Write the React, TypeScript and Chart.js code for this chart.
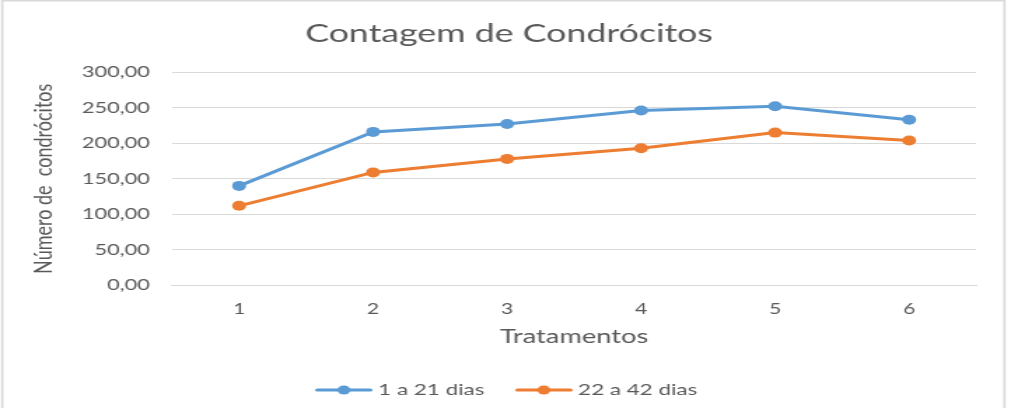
import React, { useEffect, useRef } from 'react';
import { Chart, registerables } from 'chart.js';

Chart.register(...registerables);

// ---- data ----
const categories = ['1', '2', '3', '4', '5', '6'];
const series1Label = '1 a 21 dias';
const series2Label = '22 a 42 dias';
const series1 = [140, 216, 227, 246, 252, 233];
const series2 = [112, 159, 178, 193, 215, 204];
const yTickValues = [0, 50, 100, 150, 200, 250, 300];
const chartTitle = 'Contagem de Condrócitos';
const xTitle = 'Tratamentos';
const yTitle = 'Número de  condrócitos';

// ---- styles ----
const STRETCH = 1.4003;
const W = 727;
const H = 408;
const BLUE = '#5B9BD5';
const ORANGE = '#ED7D31';
const TEXT = '#595959';
const GRID = '#D9D9D9';
const FONT = 'Lato';

function legendIcon(color: string) {
  const c = document.createElement('canvas');
  c.width = 41;
  c.height = 12;
  const g = c.getContext('2d')!;
  g.strokeStyle = color;
  g.lineWidth = 3;
  g.lineCap = 'round';
  g.beginPath();
  g.moveTo(1.5, 6);
  g.lineTo(39.5, 6);
  g.stroke();
  g.fillStyle = color;
  g.beginPath();
  g.arc(20.5, 6, 4.6, 0, Math.PI * 2);
  g.fill();
  return c;
}

const framePlugin = {
  id: 'frame',
  beforeDraw(chart: any) {
    const ctx = chart.ctx;
    ctx.save();
    ctx.fillStyle = '#ffffff';
    ctx.fillRect(0, 0, chart.width, chart.height);
    ctx.strokeStyle = GRID;
    ctx.lineWidth = 1.6;
    ctx.beginPath();
    ctx.moveTo(1.6, H);
    ctx.lineTo(1.6, 0.6);
    ctx.lineTo(717.3, 0.6);
    ctx.lineTo(717.3, H);
    ctx.stroke();
    ctx.restore();
  },
};

export default function App() {
  const ref = useRef<HTMLCanvasElement>(null);

  useEffect(() => {
    document.body.style.margin = '0';
    const canvas = ref.current!;
    const icons = [legendIcon(BLUE), legendIcon(ORANGE)];
    const chart = new Chart(canvas, {
      type: 'line',
      data: {
        labels: categories,
        datasets: [
          {
            label: series1Label,
            data: series1,
            borderColor: BLUE,
            backgroundColor: BLUE,
            borderWidth: 3,
            pointRadius: 5,
            pointBorderWidth: 0,
            pointBackgroundColor: BLUE,
            tension: 0,
          },
          {
            label: series2Label,
            data: series2,
            borderColor: ORANGE,
            backgroundColor: ORANGE,
            borderWidth: 3,
            pointRadius: 5,
            pointBorderWidth: 0,
            pointBackgroundColor: ORANGE,
            tension: 0,
          },
        ],
      },
      options: {
        responsive: false,
        animation: false,
        devicePixelRatio: 1,
        layout: { padding: { left: 0, right: 0, top: 0, bottom: 0 } },
        plugins: {
          title: {
            display: true,
            text: chartTitle,
            color: TEXT,
            font: { family: FONT, size: 25.5, weight: 'normal', lineHeight: 1.2 },
            padding: { top: 18, bottom: 23.6 },
          },
          legend: {
            position: 'bottom',
            labels: {
              usePointStyle: true,
              pointStyleWidth: 33,
              boxHeight: 12,
              color: TEXT,
              font: { family: FONT, size: 16 },
              padding: 26,
              generateLabels: (c: any) => {
                const items = Chart.defaults.plugins.legend.labels.generateLabels(c);
                return items.map((it: any, i: number) => ({ ...it, pointStyle: icons[i] }));
              },
            },
          },
          tooltip: { enabled: false },
        },
        scales: {
          x: {
            offset: true,
            grid: { display: false, drawTicks: false },
            border: { display: true, color: GRID, width: 1 },
            ticks: { color: TEXT, font: { family: FONT, size: 15 }, padding: 15 },
            title: {
              display: true,
              text: xTitle,
              color: TEXT,
              font: { family: FONT, size: 19.5, lineHeight: 1.2 },
              padding: { top: 0, bottom: 7.3 },
            },
            afterFit: (s: any) => {
              s.height = 70.6;
            },
          },
          y: {
            min: 0,
            max: 300,
            afterBuildTicks: (s: any) => {
              s.ticks = yTickValues.map((v) => ({ value: v }));
            },
            grid: { color: GRID, lineWidth: 1, drawTicks: false },
            border: { display: false },
            ticks: {
              color: TEXT,
              font: { family: FONT, size: 15.5 },
              padding: 16,
              callback: (v: any) => Number(v).toFixed(2).replace('.', ','),
            },
            title: {
              display: true,
              text: yTitle,
              color: TEXT,
              font: { family: FONT, size: 18, lineHeight: 1.2 },
              padding: { top: 20, bottom: 0 },
            },
            afterFit: (s: any) => {
              s.width = 122.9;
            },
          },
          yRight: {
            position: 'right',
            display: true,
            grid: { display: false, drawTicks: false },
            border: { display: false },
            ticks: { display: false },
            afterFit: (s: any) => {
              s.width = 29.9;
            },
          },
        },
      },
      plugins: [framePlugin],
    } as any);
    return () => chart.destroy();
  }, []);

  return (
    <div
      style={{
        width: W,
        height: H,
        transform: `scaleX(${STRETCH})`,
        transformOrigin: '0 0',
      }}
    >
      <canvas ref={ref} width={W} height={H} style={{ display: 'block', width: W, height: H }} />
    </div>
  );
}
